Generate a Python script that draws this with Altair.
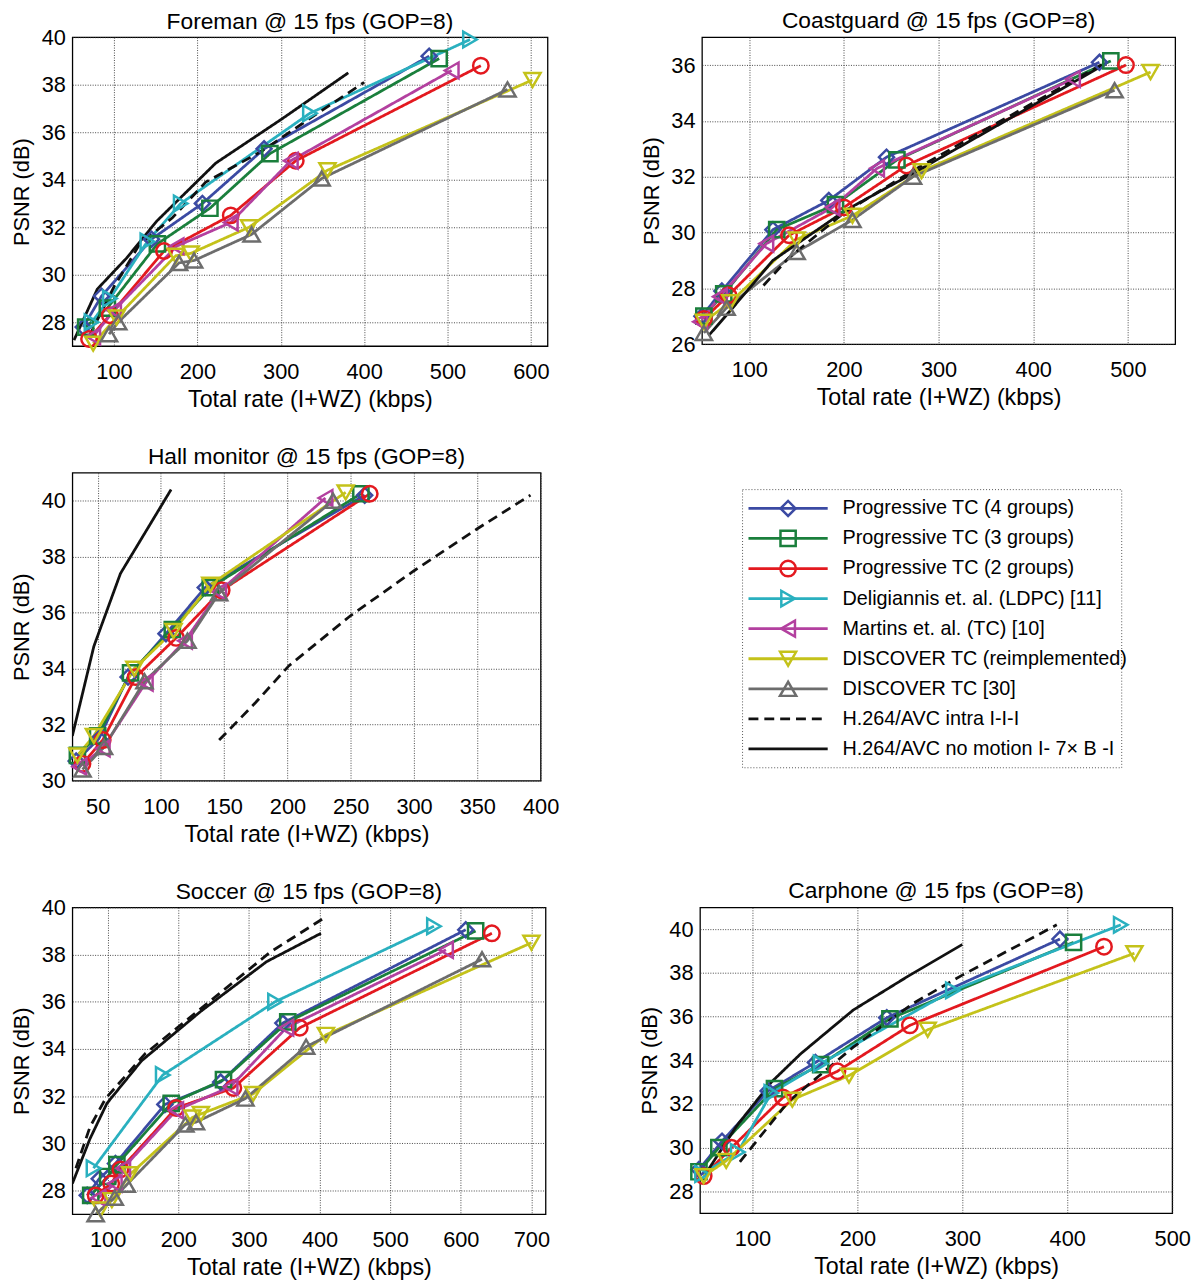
import altair as alt
import pandas as pd

FONT = "Liberation Sans"

SERIES = [
    "Progressive TC (4 groups)",
    "Progressive TC (3 groups)",
    "Progressive TC (2 groups)",
    "Deligiannis et. al. (LDPC) [11]",
    "Martins et. al. (TC) [10]",
    "DISCOVER TC (reimplemented)",
    "DISCOVER TC [30]",
    "H.264/AVC intra I-I-I",
    "H.264/AVC no motion I- 7\u00d7 B -I",
]
COLORS = ["#3b4aa3", "#1a7f3c", "#e3191f", "#2ab0bf", "#b3409f", "#c4c21a", "#6d6d6d", "#111111", "#111111"]
SHAPES = ["diamond", "square", "circle", "triangle-right", "triangle-left", "triangle-down", "triangle-up"]
MARKER_SIZES = [230, 270, 200, 260, 260, 260, 260]
MARKER_SERIES = SERIES[:7]
DASHES = [[1, 0]] * 7 + [[10, 6], [1, 0]]

S4, S3, S2, LD, MA, DR, D30, INTRA, NOMO = SERIES

# ---- Foreman ----
FOREMAN = {
    S4: ([63, 85, 145, 206, 280, 478], [27.8, 29.1, 31.5, 33.0, 35.3, 39.2]),
    S3: ([66, 92, 152, 215, 287, 490], [27.8, 28.6, 31.3, 32.8, 35.1, 39.1]),
    S2: ([70, 95, 160, 240, 318, 540], [27.3, 28.3, 31.0, 32.5, 34.8, 38.8]),
    LD: ([73, 95, 140, 180, 335, 527], [28.0, 29.0, 31.4, 33.0, 36.8, 39.9]),
    MA: ([75, 100, 175, 240, 312, 505], [27.4, 28.5, 31.2, 32.2, 34.8, 38.6]),
    DR: ([75, 103, 174, 192, 262, 356, 602], [27.1, 28.2, 30.8, 30.9, 32.0, 34.4, 38.2]),
    D30: ([94, 105, 178, 196, 265, 349, 572], [27.5, 28.0, 30.5, 30.6, 31.7, 34.05, 37.8]),
    INTRA: ([70, 100, 131, 170, 210, 277, 340, 400], [27.4, 29.5, 31.3, 32.4, 33.9, 35.2, 36.7, 38.1]),
    NOMO: ([52, 80, 115, 151, 222, 301, 381], [27.25, 29.4, 30.7, 32.25, 34.7, 36.55, 38.5]),
}

# ---- Coastguard ----
COASTGUARD = {
    S4: ([50, 71, 125, 184, 245, 470], [27.0, 27.9, 30.1, 31.15, 32.7, 36.1]),
    S3: ([52, 73, 129, 191, 256, 482], [27.0, 27.8, 30.1, 31.0, 32.6, 36.15]),
    S2: ([52, 78, 142, 200, 266, 498], [26.9, 27.75, 29.9, 30.9, 32.4, 36.0]),
    MA: ([48, 69, 118, 188, 235, 442], [26.8, 27.7, 29.6, 30.9, 32.3, 35.5]),
    DR: ([52, 80, 150, 209, 282, 524], [26.8, 27.5, 29.75, 30.6, 32.2, 35.75]),
    D30: ([52, 76, 150, 209, 273, 486], [26.4, 27.3, 29.3, 30.45, 32.0, 35.1]),
    INTRA: ([115, 142, 200, 272, 350, 477], [28.1, 29.1, 30.7, 32.2, 33.7, 36.1]),
    NOMO: ([57, 80, 125, 202, 272, 350, 477], [26.3, 27.2, 29.0, 30.8, 32.1, 33.6, 36.05]),
}

# ---- Hall monitor ----
HALL = {
    S4: ([33, 51, 74, 104, 135, 261], [30.7, 31.5, 33.7, 35.25, 36.9, 40.2]),
    S3: ([34, 50, 76, 109, 139, 258], [30.9, 31.6, 33.85, 35.4, 36.9, 40.25]),
    S2: ([38, 54, 80, 112, 148, 265], [30.6, 31.45, 33.7, 35.1, 36.8, 40.25]),
    MA: ([35.6, 54, 88, 119, 146, 230], [30.5, 31.15, 33.5, 35.0, 36.75, 40.1]),
    DR: ([34, 47, 79, 110, 139, 246], [30.9, 31.6, 34.0, 35.35, 37.0, 40.3]),
    D30: ([38, 55, 87, 121, 146, 236], [30.4, 31.2, 33.55, 35.0, 36.7, 40.0]),
    INTRA: ([146, 175, 201, 250, 300, 350, 392], [31.45, 32.8, 34.1, 35.9, 37.5, 39.0, 40.2]),
    NOMO: ([30, 47, 68, 108], [31.6, 34.8, 37.4, 40.4]),
}

# ---- Soccer ----
SOCCER = {
    S4: ([71, 88, 111, 181, 260, 348, 607], [27.8, 28.5, 29.15, 31.65, 32.6, 35.1, 39.05]),
    S3: ([76, 100, 113, 190, 264, 355, 621], [27.8, 28.6, 29.1, 31.7, 32.7, 35.15, 39.0]),
    S2: ([83, 105, 118, 197, 278, 372, 644], [27.8, 28.3, 28.9, 31.5, 32.35, 34.9, 38.9]),
    LD: ([80, 178, 337, 562], [28.95, 32.9, 36.0, 39.2]),
    MA: ([87, 110, 122, 197, 274, 353, 579], [27.7, 28.3, 28.95, 31.4, 32.4, 34.9, 38.2]),
    DR: ([90, 106, 132, 220, 232, 306, 409, 700], [27.2, 27.6, 28.7, 31.1, 31.25, 32.1, 34.6, 38.5]),
    D30: ([83, 110, 127, 210, 225, 295, 381, 630], [27.0, 27.7, 28.25, 30.8, 30.9, 31.9, 34.1, 37.8]),
    INTRA: ([55, 75, 97, 153, 246, 330, 409], [28.95, 30.7, 31.9, 33.8, 36.05, 38.1, 39.6]),
    NOMO: ([50, 75, 99, 148, 232, 325, 402], [28.3, 30.2, 31.7, 33.5, 35.6, 37.7, 38.9]),
}

# ---- Carphone ----
CARPHONE = {
    S4: ([49, 71, 115, 160, 228, 393], [29.0, 30.3, 32.6, 33.9, 35.95, 39.55]),
    S3: ([49, 68, 121, 165, 231, 406], [28.9, 30.0, 32.7, 33.8, 35.9, 39.4]),
    S2: ([53.5, 80, 129, 181, 250, 435], [28.7, 30.0, 32.3, 33.5, 35.6, 39.2]),
    LD: ([52, 86, 118, 165, 291, 451], [28.8, 29.8, 32.5, 33.85, 37.2, 40.2]),
    DR: ([53.5, 75, 138, 192, 267, 464], [28.7, 29.4, 32.2, 33.3, 35.4, 38.9]),
    INTRA: ([88, 134, 196, 253, 300, 390], [29.35, 32.1, 34.6, 36.6, 37.9, 40.2]),
    NOMO: ([58, 85, 118, 146, 196, 250, 300], [29.0, 31.0, 33.0, 34.3, 36.3, 37.9, 39.3]),
}

XTITLE = "Total rate (I+WZ) (kbps)"
YTITLE = "PSNR (dB)"
TITLE_SIZE = 23
TITLE_OFFSET = 4
LABEL_SIZE = 22
AXTITLE_SIZE = 23.5

color_scale = alt.Scale(domain=SERIES, range=COLORS)
dash_scale = alt.Scale(domain=SERIES, range=DASHES)
shape_scale = alt.Scale(domain=MARKER_SERIES, range=SHAPES)
size_scale = alt.Scale(domain=MARKER_SERIES, range=MARKER_SIZES)

AXIS_COMMON = dict(
    labelFont=FONT, titleFont=FONT, labelFontSize=LABEL_SIZE,
    titleFontWeight="normal", labelColor="black", titleColor="black",
    grid=True, gridColor="#333333", gridDash=[1, 1.5], gridWidth=0.9,
    domain=False, ticks=False, labelFlush=False,
)


def to_df(data):
    rows = []
    for s in SERIES:
        if s in data:
            xs, ys = data[s]
            for i, (a, b) in enumerate(zip(xs, ys)):
                rows.append({"series": s, "rate": a, "psnr": b, "idx": i})
    return pd.DataFrame(rows)


def panel(title, data, xdom, ydom, xticks, yticks, w, h):
    df = to_df(data)
    base = alt.Chart(df)
    x = alt.X("rate:Q", scale=alt.Scale(domain=xdom, nice=False, zero=False),
              axis=alt.Axis(values=xticks, title=XTITLE, labelPadding=16, titlePadding=5,
                            titleFontSize=AXTITLE_SIZE, **AXIS_COMMON))
    y = alt.Y("psnr:Q", scale=alt.Scale(domain=ydom, nice=False, zero=False),
              axis=alt.Axis(values=yticks, title=YTITLE, labelPadding=7, titlePadding=6,
                            titleFontSize=22, minExtent=33, maxExtent=33, **AXIS_COMMON))
    color = alt.Color("series:N", scale=color_scale, legend=None)
    lines = base.mark_line(strokeWidth=2.8, clip=True).encode(
        x=x, y=y, color=color,
        strokeDash=alt.StrokeDash("series:N", scale=dash_scale, legend=None),
        detail="series:N", order="idx:Q")
    pts = base.transform_filter(
        alt.FieldOneOfPredicate(field="series", oneOf=MARKER_SERIES)
    ).mark_point(filled=False, strokeWidth=2.5, opacity=1).encode(
        x=x, y=y, color=color,
        shape=alt.Shape("series:N", scale=shape_scale, legend=None),
        size=alt.Size("series:N", scale=size_scale, legend=None))
    # a tick label sitting on the top edge pushes the title up; compensate
    off = TITLE_OFFSET - 11.5 if yticks[-1] == ydom[1] else TITLE_OFFSET
    return alt.layer(lines, pts).properties(
        width=w, height=h,
        title=alt.Title(title, fontSize=TITLE_SIZE, fontWeight="normal", font=FONT,
                        offset=off, color="black"))


p1 = panel("Foreman @ 15 fps (GOP=8)", FOREMAN, [50, 620], [27, 40],
           [100, 200, 300, 400, 500, 600], [28, 30, 32, 34, 36, 38, 40], 480, 312)
p2 = panel("Coastguard @ 15 fps (GOP=8)", COASTGUARD, [50, 550], [26, 37],
           [100, 200, 300, 400, 500], [26, 28, 30, 32, 34, 36], 478, 310)
p3 = panel("Hall monitor @ 15 fps (GOP=8)", HALL, [30, 400], [30, 41],
           [50, 100, 150, 200, 250, 300, 350, 400], [30, 32, 34, 36, 38, 40], 473, 311)
p4 = panel("Soccer @ 15 fps (GOP=8)", SOCCER, [50, 720], [27, 40],
           [100, 200, 300, 400, 500, 600, 700], [28, 30, 32, 34, 36, 38, 40], 478, 310)
p5 = panel("Carphone @ 15 fps (GOP=8)", CARPHONE, [50, 500], [27, 41],
           [100, 200, 300, 400, 500], [28, 30, 32, 34, 36, 38, 40], 477, 309)

# ---- Legend panel ----
LEG_W, LEG_H = 383, 298
leg_df = pd.DataFrame({"series": SERIES, "pos": list(range(len(SERIES)))})
leg_base = alt.Chart(leg_df)
ly_scale = alt.Scale(domain=[-1.185, 8.626], reverse=True, nice=False, zero=False)
ly = alt.Y("pos:Q", scale=ly_scale, axis=None)
leg_frame = alt.Chart(pd.DataFrame({"top": [-0.625], "bottom": [8.625]})).mark_rect(
    fillOpacity=0, stroke="#555555", strokeDash=[1, 2], strokeWidth=1
).encode(
    x=alt.value(0), x2=alt.value(LEG_W),
    y=alt.Y("top:Q", scale=ly_scale, axis=None), y2="bottom:Q")
leg_lines = leg_base.mark_rule(strokeWidth=2.8).encode(
    x=alt.value(6), x2=alt.value(86), y=ly,
    color=alt.Color("series:N", scale=color_scale, legend=None),
    strokeDash=alt.StrokeDash("series:N", scale=dash_scale, legend=None))
leg_pts = leg_base.transform_filter(
    alt.FieldOneOfPredicate(field="series", oneOf=MARKER_SERIES)
).mark_point(filled=False, strokeWidth=2.5, opacity=1).encode(
    x=alt.value(46), y=ly,
    color=alt.Color("series:N", scale=color_scale, legend=None),
    shape=alt.Shape("series:N", scale=shape_scale, legend=None),
    size=alt.Size("series:N", scale=size_scale, legend=None))
leg_text = leg_base.mark_text(align="left", baseline="middle", fontSize=20, font=FONT, color="black").encode(
    x=alt.value(101), y=ly, text="series:N")
legend = alt.layer(leg_frame, leg_lines, leg_pts, leg_text).properties(
    width=LEG_W, height=LEG_H,
    view=alt.ViewBackground(strokeOpacity=0))

row1 = alt.hconcat(p1, p2, spacing=90).resolve_scale(x="independent", y="independent")
row2 = alt.hconcat(p3, legend, spacing=183).resolve_scale(x="independent", y="independent")
row3 = alt.hconcat(p4, p5, spacing=88).resolve_scale(x="independent", y="independent")

chart = alt.vconcat(row1, row2, row3, spacing=33).resolve_scale(
    x="independent", y="independent"
).properties(
    padding={"top": -5, "left": 2, "right": 0, "bottom": 0}, background="white"
).configure_view(
    stroke="black", strokeWidth=1.3
)

chart.save("out.html", embed_options={"renderer": "svg", "actions": False})
